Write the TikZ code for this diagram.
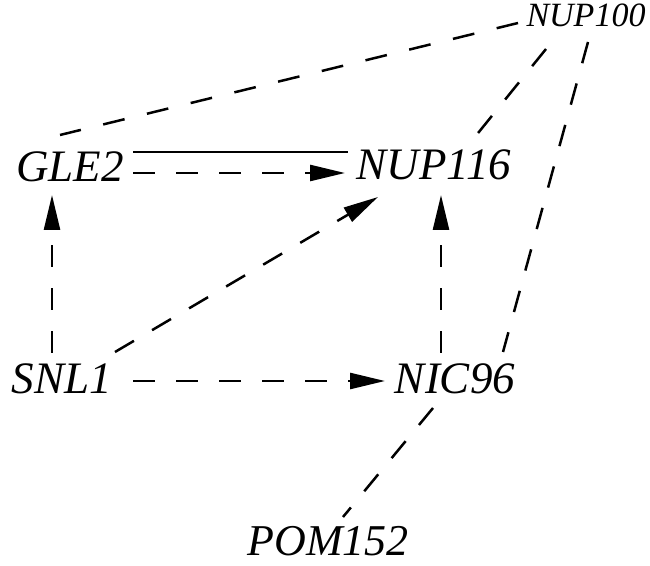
\documentclass[tikz,border=0pt]{standalone}
\usepackage{fontspec}
\setmainfont{Liberation Serif}
\usetikzlibrary{arrows.meta,calc}
\begin{document}
\begin{tikzpicture}[x=1pt,y=1pt,
  gene/.style={inner sep=0pt,font=\fontsize{45}{50}\selectfont\itshape},
  smallgene/.style={inner sep=0pt,font=\fontsize{34}{40}\selectfont\itshape},
  link/.style={line width=2.5pt,dash pattern=on 22pt off 21pt},
  solidlink/.style={line width=2.5pt},
  act/.style={link,-{Triangle[length=35pt,width=16pt]}}]
\useasboundingbox (0,0) rectangle (650,565);
% genes
\node[gene] (gle)  at (70,398)  {GLE2};
\node[gene] (n116) at (434,400) {NUP116};
\node[gene] (snl)  at (62,186)  {SNL1};
\node[gene] (nic)  at (455,186) {NIC96};
\node[gene,font=\fontsize{44}{50}\selectfont\itshape] (pom) at (328,24) {POM152};
\node[smallgene] (n100) at (586,550) {NUP100};
% undirected interactions
\draw[link,dash pattern=on 22pt off 23pt] ($(n100)+(-68,-8)$) -- ($(gle)+(-10,32)$);
\draw[link] ($(n100)+(-40,-34)$) -- ($(n116)+(36,22)$);
\draw[link] ($(n100)+(2,-27)$) -- ($(nic)+(48,27)$);
\draw[link] ($(nic)+(-22,-29)$) -- ($(pom)+(15,24)$);
\draw[solidlink] ($(gle)+(63,15)$) -- ($(n116)+(-86,13)$);
% directed interactions
\draw[act] ($(gle)+(63,-6)$) -- ($(n116)+(-89,-8)$);
\draw[act] ($(snl)+(-10,26)$) -- ($(gle)+(-18,-28)$);
\draw[act] ($(snl)+(53,27)$) -- ($(n116)+(-56,-32)$);
\draw[act] ($(nic)+(-14,26)$) -- ($(n116)+(7,-30)$);
\draw[act] ($(snl)+(71,-2)$) -- ($(nic)+(-70,-2)$);
\end{tikzpicture}
\end{document}
